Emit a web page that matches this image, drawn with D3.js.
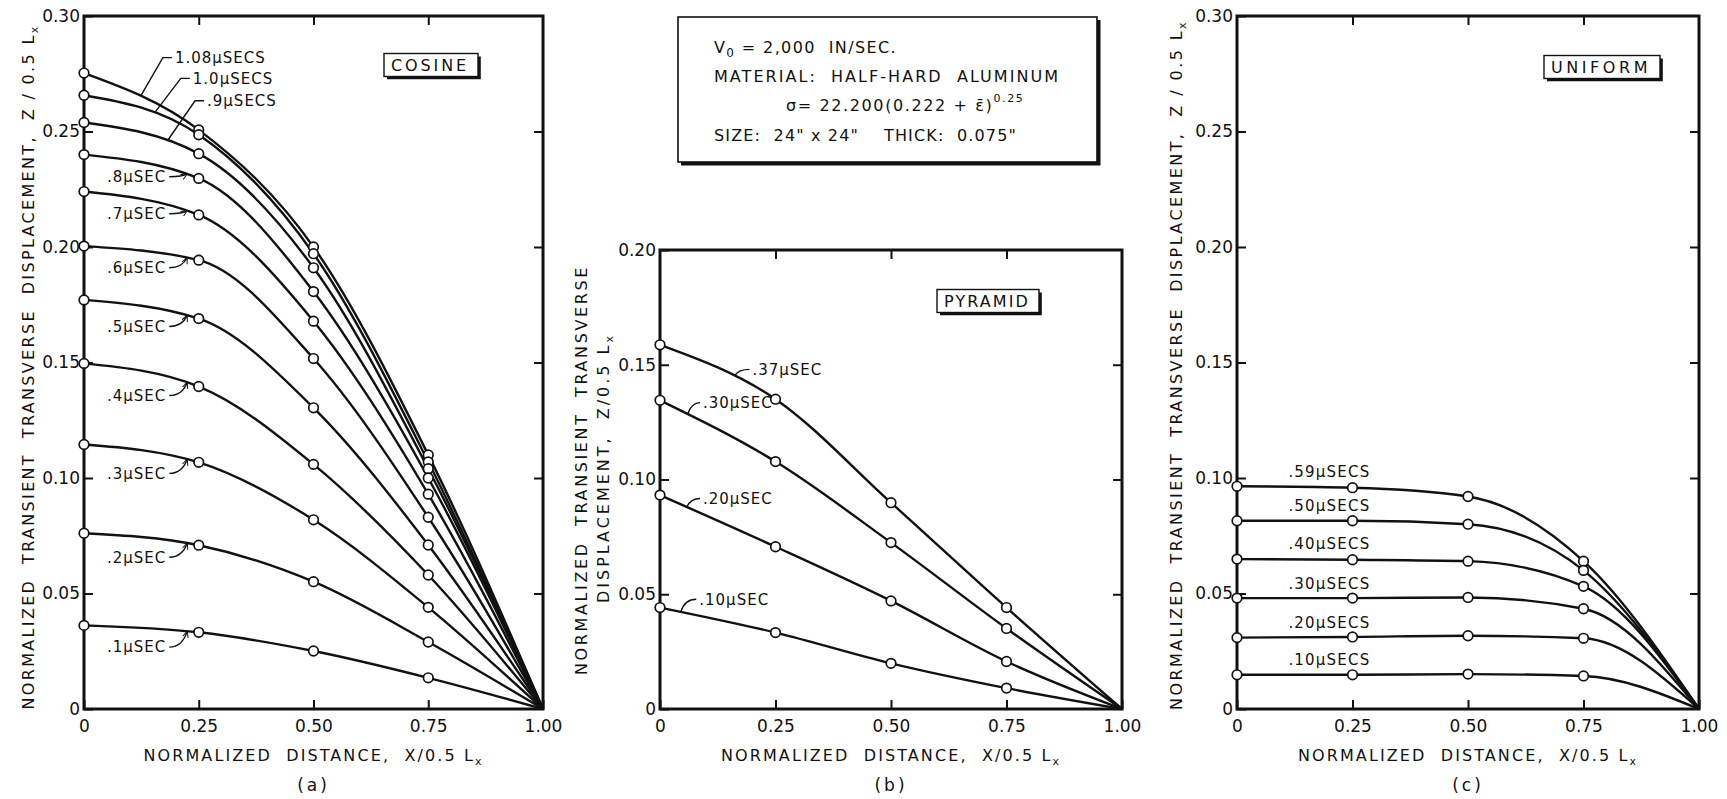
<!DOCTYPE html>
<html>
<head>
<meta charset="utf-8">
<script src="https://cdn.jsdelivr.net/npm/d3@7/dist/d3.min.js"></script>
<style>
  body { margin: 0; background: #fff; }
  svg { display: block; }
  text { font-family: 'DejaVu Sans', sans-serif; fill: #111; }
</style>
</head>
<body>
<div id="chart"></div>
<script>
// ---- values ----
const xStations = [0, 0.25, 0.50, 0.75, 1.00];
const xTickLabels = ["0", "0.25", "0.50", "0.75", "1.00"];

// (a) cosine loading
const cosineLabels = ["1.08\u03bcSECS", "1.0\u03bcSECS", ".9\u03bcSECS", ".8\u03bcSEC", ".7\u03bcSEC",
  ".6\u03bcSEC", ".5\u03bcSEC", ".4\u03bcSEC", ".3\u03bcSEC", ".2\u03bcSEC", ".1\u03bcSEC"];
const cosineZ = [
  [0.2753, 0.2507, 0.2000, 0.1100, 0],
  [0.2657, 0.2486, 0.1971, 0.1070, 0],
  [0.2539, 0.2404, 0.1910, 0.1040, 0],
  [0.2400, 0.2297, 0.1807, 0.1000, 0],
  [0.2240, 0.2139, 0.1679, 0.0930, 0],
  [0.2004, 0.1943, 0.1517, 0.0830, 0],
  [0.1771, 0.1690, 0.1304, 0.0710, 0],
  [0.1496, 0.1396, 0.1059, 0.0580, 0],
  [0.1145, 0.1068, 0.0819, 0.0440, 0],
  [0.0761, 0.0709, 0.0551, 0.0290, 0],
  [0.0362, 0.0332, 0.0251, 0.0135, 0]
];
// label text start (x, z) and x where the leader meets the curve
const cosineCallouts = [
  [0.198, 0.2820, 0.124], [0.237, 0.2730, 0.155], [0.268, 0.2633, 0.183],
  [0.050, 0.2304, 0.225], [0.050, 0.2144, 0.225], [0.050, 0.1910, 0.225], [0.050, 0.1656, 0.225],
  [0.050, 0.1357, 0.225], [0.050, 0.1020, 0.225], [0.050, 0.0657, 0.225], [0.050, 0.0268, 0.225]
];

// (b) pyramid loading
const pyramidLabels = [".37\u03bcSEC", ".30\u03bcSEC", ".20\u03bcSEC", ".10\u03bcSEC"];
const pyramidZ = [
  [0.1587, 0.1350, 0.0899, 0.0442, 0],
  [0.1345, 0.1078, 0.0725, 0.0351, 0],
  [0.0932, 0.0707, 0.0471, 0.0207, 0],
  [0.0442, 0.0333, 0.0199, 0.0091, 0]
];
const pyramidCallouts = [
  [0.200, 0.1480, 0.162], [0.093, 0.1335, 0.060], [0.093, 0.0917, 0.058], [0.085, 0.0478, 0.045]
];

// (c) uniform loading
const uniformLabels = [".59\u03bcSECS", ".50\u03bcSECS", ".40\u03bcSECS", ".30\u03bcSECS", ".20\u03bcSECS", ".10\u03bcSECS"];
const uniformZ = [
  [0.0964, 0.0958, 0.0920, 0.0640, 0],
  [0.0815, 0.0815, 0.0800, 0.0600, 0],
  [0.0649, 0.0646, 0.0640, 0.0531, 0],
  [0.0480, 0.0480, 0.0483, 0.0434, 0],
  [0.0309, 0.0312, 0.0317, 0.0306, 0],
  [0.0148, 0.0148, 0.0151, 0.0143, 0]
];

// ---- drawing ----
const INK = "#111";
const svg = d3.select("#chart").append("svg").attr("width", 1727).attr("height", 799);

svg.append("defs").append("marker")
  .attr("id", "arrow")
  .attr("viewBox", "0 0 10 10")
  .attr("refX", 9).attr("refY", 5)
  .attr("markerWidth", 7).attr("markerHeight", 7)
  .attr("markerUnits", "userSpaceOnUse")
  .attr("orient", "auto")
  .append("path")
  .attr("d", "M0,1 L9,5 L0,9")
  .attr("fill", "none").attr("stroke", INK).attr("stroke-width", 1.4);

// spread letters so a text covers a given length
function fitText(sel, target) {
  const n = sel.node();
  const len = n.getComputedTextLength();
  sel.attr("letter-spacing", (target - len) / n.textContent.length);
  return sel;
}

// y pixel of a drawn path at a given x pixel
function yAt(node, px) {
  let lo = 0, hi = node.getTotalLength();
  for (let k = 0; k < 40; k++) {
    const mid = (lo + hi) / 2;
    if (node.getPointAtLength(mid).x < px) lo = mid; else hi = mid;
  }
  return node.getPointAtLength(lo).y;
}

function shadowBox(g, cx, cy, w, h, lw, sw) {
  const x0 = cx - w / 2, y0 = cy - h / 2;
  g.append("rect").attr("x", x0).attr("y", y0).attr("width", w).attr("height", h)
    .attr("fill", "#fff").attr("stroke", INK).attr("stroke-width", lw);
  g.append("path")
    .attr("d", `M${x0 + 3},${y0 + h + sw / 2} H${x0 + w + sw / 2} V${y0 + 3}`)
    .attr("fill", "none").attr("stroke", INK).attr("stroke-width", sw);
}

function drawPanel(p) {
  const x = d3.scaleLinear().domain([0, 1]).range([p.left, p.right]);
  const y = d3.scaleLinear().domain([0, p.yMax]).range([p.bottom, p.top]);
  const yTicks = d3.range(0, Math.round(p.yMax / 0.05) + 1).map(k => k * 0.05);
  const g = svg.append("g");

  const axes = [
    { a: d3.axisBottom(x).tickValues(xStations).tickFormat((d, i) => xTickLabels[i]).tickPadding(11), t: `translate(0,${p.bottom})` },
    { a: d3.axisTop(x).tickValues(xStations.slice(1, 4)).tickFormat(""), t: `translate(0,${p.top})` },
    { a: d3.axisLeft(y).tickValues(yTicks).tickFormat(d => d === 0 ? "0" : d.toFixed(2)).tickPadding(4), t: `translate(${p.left},0)` },
    { a: d3.axisRight(y).tickValues(yTicks.slice(1, -1)).tickFormat(""), t: `translate(${p.right},0)` }
  ];
  axes.forEach(ax => {
    const ag = g.append("g").attr("transform", ax.t)
      .call(ax.a.tickSizeInner(-9).tickSizeOuter(0))
      .attr("font-family", "'DejaVu Sans', sans-serif").attr("font-size", 17);
    ag.select(".domain").remove();
    ag.selectAll(".tick line").attr("stroke", INK).attr("stroke-width", 2);
    ag.selectAll(".tick text").attr("fill", INK);
  });

  g.append("rect")
    .attr("x", p.left).attr("y", p.top)
    .attr("width", p.right - p.left).attr("height", p.bottom - p.top)
    .attr("fill", "none").attr("stroke", INK).attr("stroke-width", 3);

  // x title and caption
  const cx = (p.left + p.right) / 2;
  const xt = g.append("text").attr("x", cx).attr("y", 761).attr("text-anchor", "middle").attr("font-size", 16);
  xt.append("tspan").text("NORMALIZED  DISTANCE,  X/0.5 L").style("white-space", "pre");
  xt.append("tspan").attr("font-size", 11).attr("dy", 4).text("x");
  fitText(xt, 340);
  g.append("text").attr("x", cx).attr("y", 791).attr("text-anchor", "middle")
    .attr("font-size", 17).attr("letter-spacing", 3).text(`(${p.id})`);

  // y title(s)
  p.yTitle.forEach(t => {
    const yt = g.append("text")
      .attr("transform", `translate(${t.x},${t.cy}) rotate(-90)`)
      .attr("text-anchor", "middle").attr("dy", "0.35em").attr("font-size", 16);
    yt.append("tspan").style("white-space", "pre").text(t.text);
    if (t.sub) yt.append("tspan").attr("font-size", 11).attr("dy", 4).text("x");
    fitText(yt, t.len);
  });

  // tag box
  const tag = g.append("g");
  shadowBox(tag, p.tag.cx, p.tag.cy, p.tag.w, 23, 1.4, 2.8);
  fitText(tag.append("text").attr("x", p.tag.cx - 1).attr("y", p.tag.cy).attr("dy", "0.36em")
    .attr("text-anchor", "middle").attr("font-size", 16).text(p.tag.text), p.tag.w - 16);

  return { g, x, y };
}

function drawSeries(ctx, rows) {
  const line = d3.line()
    .x((d, i) => ctx.x(xStations[i]))
    .y(d => ctx.y(d))
    .curve(d3.curveMonotoneX);
  const nodes = rows.map(vals => ctx.g.append("path").datum(vals)
    .attr("d", line).attr("fill", "none")
    .attr("stroke", INK).attr("stroke-width", 2.4).attr("stroke-linejoin", "round").node());
  rows.forEach(vals => {
    ctx.g.selectAll(null).data(vals.slice(0, 4)).join("circle")
      .attr("cx", (d, i) => ctx.x(xStations[i]))
      .attr("cy", d => ctx.y(d))
      .attr("r", 4.8)
      .attr("fill", "#fff").attr("stroke", INK).attr("stroke-width", 1.7);
  });
  return nodes;
}

function callout(ctx, node, label, c, hook) {
  const tx = ctx.x(c[0]), ty = ctx.y(c[1]);
  const t = ctx.g.append("text").attr("x", tx).attr("y", ty).attr("dy", "0.36em")
    .attr("font-size", 15).attr("letter-spacing", 1).text(label);
  const px = ctx.x(c[2]), py = yAt(node, px);
  let d, arrow = false;
  if (c[2] < c[0]) {
    const sx = tx - 3;
    d = hook ? `M${sx},${ty} Q${px + 4},${ty} ${px},${py}` : `M${sx},${ty} H${sx - 9} L${px},${py}`;
  } else {
    const sx = tx + t.node().getComputedTextLength() + 3;
    d = `M${sx},${ty} Q${px - 5},${ty} ${px},${py}`;
    arrow = true;
  }
  const path = ctx.g.append("path").attr("d", d).attr("fill", "none")
    .attr("stroke", INK).attr("stroke-width", 1.4);
  if (arrow) path.attr("marker-end", "url(#arrow)");
}

const TITLE = "NORMALIZED  TRANSIENT  TRANSVERSE  DISPLACEMENT,  Z / 0.5 L";

// (a)
const pa = drawPanel({
  id: "a", left: 84, right: 543, top: 16, bottom: 709, yMax: 0.30,
  yTitle: [{ x: 28, cy: 367, len: 685, text: TITLE, sub: true }],
  tag: { cx: 431, cy: 65, w: 94, text: "COSINE" }
});
const aNodes = drawSeries(pa, cosineZ);
cosineCallouts.forEach((c, i) => callout(pa, aNodes[i], cosineLabels[i], c, false));

// (b)
const pb = drawPanel({
  id: "b", left: 660, right: 1122, top: 250, bottom: 709, yMax: 0.20,
  yTitle: [
    { x: 581, cy: 470, len: 410, text: "NORMALIZED  TRANSIENT  TRANSVERSE", sub: false },
    { x: 603, cy: 468, len: 270, text: "DISPLACEMENT,  Z/0.5 L", sub: true }
  ],
  tag: { cx: 988, cy: 301, w: 102, text: "PYRAMID" }
});
const bNodes = drawSeries(pb, pyramidZ);
pyramidCallouts.forEach((c, i) => callout(pb, bNodes[i], pyramidLabels[i], c, true));

// (c)
const pc = drawPanel({
  id: "c", left: 1237, right: 1699, top: 16, bottom: 709, yMax: 0.30,
  yTitle: [{ x: 1176, cy: 365, len: 690, text: TITLE, sub: true }],
  tag: { cx: 1602, cy: 67, w: 116, text: "UNIFORM" }
});
drawSeries(pc, uniformZ);
uniformZ.forEach((vals, i) => {
  pc.g.append("text").attr("x", pc.x(0.20)).attr("y", pc.y(vals[0]) - 15).attr("dy", "0.36em")
    .attr("text-anchor", "middle").attr("font-size", 15).attr("letter-spacing", 1.2)
    .text(uniformLabels[i]);
});

// loading / material box
const info = svg.append("g");
shadowBox(info, 887.5, 89.5, 419, 145, 1.6, 3.5);
const infoLines = [
  { x: 714, y: 53, len: 183 },
  { x: 714, y: 82, len: 346 },
  { x: 786, y: 111, len: 240 },
  { x: 714, y: 141, len: 303 }
];
const l1 = info.append("text").attr("x", infoLines[0].x).attr("y", infoLines[0].y).attr("font-size", 16).style("white-space", "pre");
l1.append("tspan").text("V");
l1.append("tspan").attr("font-size", 12).attr("dy", 4).text("0");
l1.append("tspan").attr("dy", -4).text(" = 2,000  IN/SEC.");
fitText(l1, infoLines[0].len);
fitText(info.append("text").attr("x", infoLines[1].x).attr("y", infoLines[1].y).attr("font-size", 16)
  .style("white-space", "pre").text("MATERIAL:  HALF-HARD  ALUMINUM"), infoLines[1].len);
const l3 = info.append("text").attr("x", infoLines[2].x).attr("y", infoLines[2].y).attr("font-size", 16).style("white-space", "pre");
l3.append("tspan").text("\u03c3= 22.200(0.222 + \u03b5\u0304)");
l3.append("tspan").attr("font-size", 11).attr("dy", -9).text("0.25");
fitText(l3, infoLines[2].len);
fitText(info.append("text").attr("x", infoLines[3].x).attr("y", infoLines[3].y).attr("font-size", 16)
  .style("white-space", "pre").text("SIZE:  24\" x 24\"    THICK:  0.075\""), infoLines[3].len);
</script>
</body>
</html>
